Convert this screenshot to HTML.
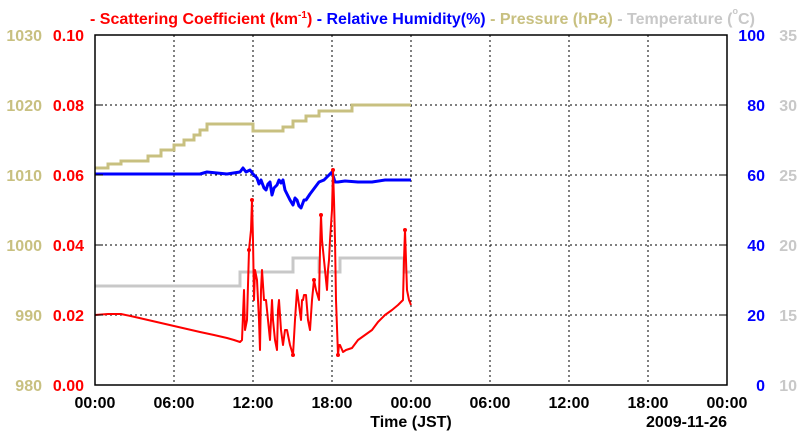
<!DOCTYPE html>
<html><head><style>body{margin:0;background:#fff}svg{display:block}text{font-family:"Liberation Sans",sans-serif;font-weight:bold;font-size:16px}</style></head><body>
<svg width="800" height="434" viewBox="0 0 800 434">
<g stroke="#000" stroke-dasharray="2,3" stroke-width="1">
<line x1="174" y1="35" x2="174" y2="385"/><line x1="253" y1="35" x2="253" y2="385"/><line x1="332" y1="35" x2="332" y2="385"/><line x1="411" y1="35" x2="411" y2="385"/><line x1="490" y1="35" x2="490" y2="385"/><line x1="569" y1="35" x2="569" y2="385"/><line x1="648" y1="35" x2="648" y2="385"/>
<line x1="95" y1="105" x2="727" y2="105"/><line x1="95" y1="175" x2="727" y2="175"/><line x1="95" y1="245" x2="727" y2="245"/><line x1="95" y1="315" x2="727" y2="315"/>
</g>
<polyline fill="none" stroke="#c8c8c8" stroke-width="3" points="95,286 240,286 240,272 293,272 293,258 319,258 319,272 340,272 340,258 404,258 404,272 411,272"/>
<polyline fill="none" stroke="#c8c080" stroke-width="3" points="95,168 108,168 108,164 121,164 121,161 148,161 148,156 161,156 161,150 174,150 174,145 184,145 184,140 194,140 194,135 200,135 200,130 207,130 207,124 253,124 253,131 283,131 283,127 293,127 293,121 306,121 306,116 319,116 319,111 352,111 352,105 411,105"/>
<polyline fill="none" stroke="#0000ff" stroke-width="3" stroke-linejoin="round" points="95,174 200,174 207,172 227,174 240,172 243,168 246,172 250,170 253,174 257,178 259,184 261,180 264,188 266,190 268,184 270,182 272,195 274,188 277,185 279,180 281,183 283,180 285,190 287,194 290,200 293,205 295,198 297,200 299,206 301,208 304,200 306,200 310,194 313,190 316,186 319,182 324,180 328,176 332,172 335,182 338,182 345,181 358,182 372,182 385,180 411,180"/>
<polyline fill="none" stroke="#ff0000" stroke-width="2" stroke-linejoin="round" points="95,315 108,314 121,314 135,317 148,320 161,323 174,326 187,329 200,332 214,335 227,338 234,340 240,342 242,340 244,290 245,330 247,320 249,250 251,230 252,200 253,240 254,300 255,270 257,280 259,320 260,350 261,290 262,270 264,300 266,300 268,320 270,340 272,300 273,320 275,340 277,350 278,310 279,300 281,330 283,345 285,330 287,330 290,345 293,355 295,320 297,290 299,305 301,320 302,300 303,300 304,295 306,295 308,320 310,330 312,300 314,280 316,290 319,300 320,250 321,215 322,240 324,260 326,280 327,290 328,270 329,260 330,240 332,210 333,170 334,200 335,240 336,300 338,355 339,345 340,345 343,352 346,350 352,348 358,340 365,335 372,330 378,322 385,315 392,310 398,305 401,302 403,300 404,260 405,230 406,260 407,290 409,300 411,305"/>
<g fill="#ff0000"><circle cx="252" cy="200" r="2"/><circle cx="333" cy="170" r="2"/><circle cx="405" cy="230" r="2"/><circle cx="321" cy="215" r="2"/><circle cx="249" cy="250" r="2"/><circle cx="314" cy="280" r="2"/><circle cx="338" cy="355" r="2"/><circle cx="293" cy="355" r="2"/></g>
<rect x="95" y="35" width="632" height="350" fill="none" stroke="#000" stroke-width="1.5"/>
<g stroke="#000"><line x1="95" y1="105" x2="103" y2="105"/><line x1="95" y1="175" x2="103" y2="175"/><line x1="95" y1="245" x2="103" y2="245"/><line x1="95" y1="315" x2="103" y2="315"/><line x1="719" y1="105" x2="727" y2="105"/><line x1="719" y1="175" x2="727" y2="175"/><line x1="719" y1="245" x2="727" y2="245"/><line x1="719" y1="315" x2="727" y2="315"/></g>
<g fill="#c8c080" text-anchor="end"><text x="42" y="41">1030</text><text x="42" y="111">1020</text><text x="42" y="181">1010</text><text x="42" y="251">1000</text><text x="42" y="321">990</text><text x="42" y="391">980</text></g>
<g fill="#ff0000" text-anchor="end"><text x="84" y="41">0.10</text><text x="84" y="111">0.08</text><text x="84" y="181">0.06</text><text x="84" y="251">0.04</text><text x="84" y="321">0.02</text><text x="84" y="391">0.00</text></g>
<g fill="#0000ff" text-anchor="end"><text x="765" y="41">100</text><text x="765" y="111">80</text><text x="765" y="181">60</text><text x="765" y="251">40</text><text x="765" y="321">20</text><text x="765" y="391">0</text></g>
<g fill="#c8c8c8" text-anchor="end"><text x="797" y="41">35</text><text x="797" y="111">30</text><text x="797" y="181">25</text><text x="797" y="251">20</text><text x="797" y="321">15</text><text x="797" y="391">10</text></g>
<g fill="#000" text-anchor="middle"><text x="95" y="408">00:00</text><text x="174" y="408">06:00</text><text x="253" y="408">12:00</text><text x="332" y="408">18:00</text><text x="411" y="408">00:00</text><text x="490" y="408">06:00</text><text x="569" y="408">12:00</text><text x="648" y="408">18:00</text><text x="727" y="408">00:00</text><text x="411" y="427">Time (JST)</text></g>
<text x="727" y="427" text-anchor="end">2009-11-26</text>
<text x="90" y="24"><tspan fill="#ff0000">- Scattering Coefficient (km</tspan><tspan fill="#ff0000" font-size="10" dy="-6">-1</tspan><tspan fill="#ff0000" dy="6">)</tspan><tspan fill="#0000ff"> - Relative Humidity(%)</tspan><tspan fill="#c8c080"> - Pressure (hPa)</tspan><tspan fill="#c8c8c8"> - Temperature (</tspan><tspan fill="#c8c8c8" font-size="9" dy="-10">o</tspan><tspan fill="#c8c8c8" dy="10">C)</tspan></text>
</svg>
</body></html>
